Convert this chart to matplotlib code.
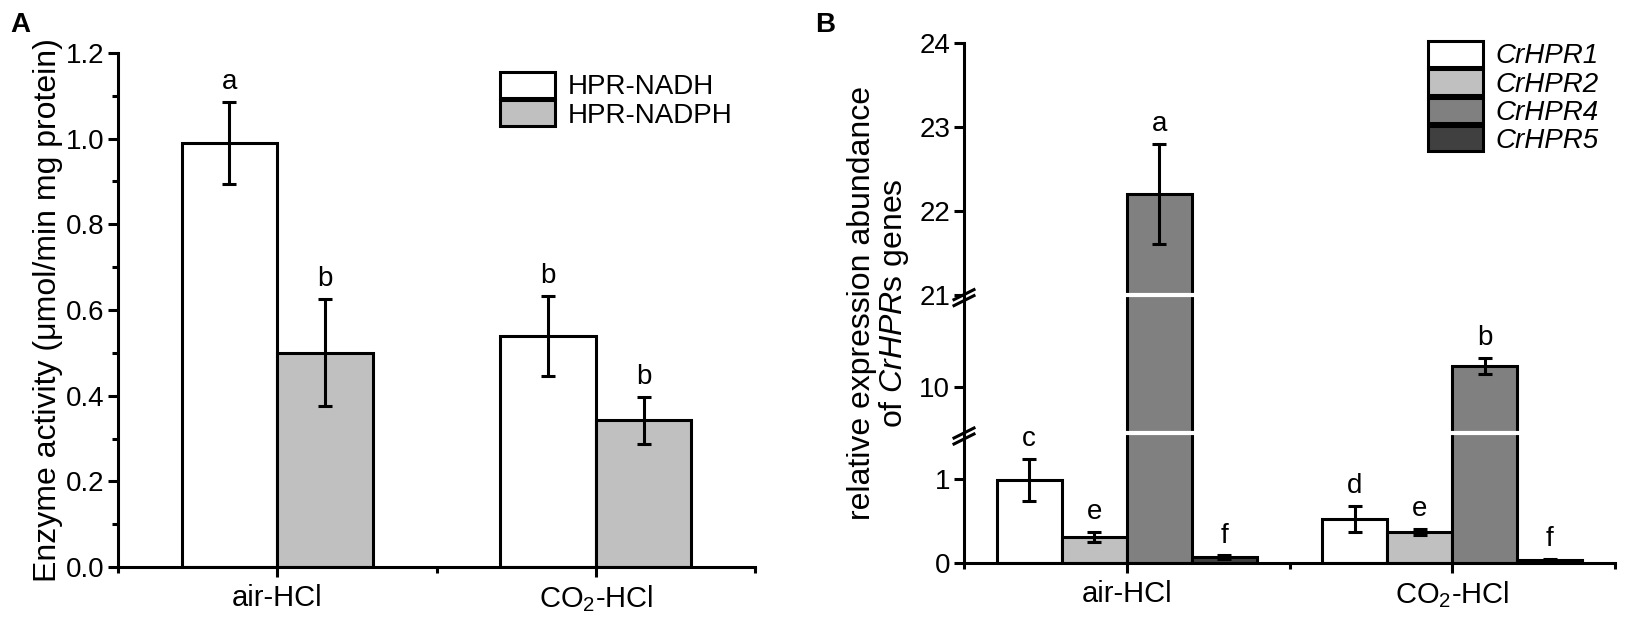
import numpy as np
import matplotlib
matplotlib.use("Agg")
import matplotlib.pyplot as plt
from matplotlib.ticker import FixedLocator, MultipleLocator, NullLocator

plt.rcParams['font.family'] = ['Liberation Sans', 'DejaVu Sans']
plt.rcParams['mathtext.fontset'] = 'custom'
plt.rcParams['mathtext.rm'] = 'Liberation Sans'
plt.rcParams['mathtext.it'] = 'Liberation Sans:italic'
plt.rcParams['mathtext.default'] = 'regular'

groups = ['air-HCl', 'CO$_2$-HCl']
group_x = [1, 3]

# panel A - enzyme activity
enz_names = ['HPR-NADH', 'HPR-NADPH']
enz_mean = [[0.99, 0.54], [0.50, 0.343]]
enz_err = [[0.095, 0.093], [0.125, 0.055]]
enz_letters = [['a', 'b'], ['b', 'b']]
enz_colors = ['white', '#c0c0c0']

# panel B - relative expression
gene_names = ['CrHPR1', 'CrHPR2', 'CrHPR4', 'CrHPR5']
gene_mean = [[0.99, 0.52], [0.31, 0.37], [22.2, 10.25], [0.07, 0.04]]
gene_err = [[0.245, 0.155], [0.06, 0.04], [0.6, 0.1], [0.02, 0.01]]
gene_letters = [['c', 'd'], ['e', 'e'], ['a', 'b'], ['f', 'f']]
gene_colors = ['white', '#c0c0c0', '#808080', '#404040']

# broken axis for panel B: (value, position) knots
brk_y = [0, 1.55, 9.45, 11.1, 21, 24]
brk_d = [0, 130.2, 130.21, 268.8, 268.81, 520.8]

FS = 20      # tick labels, legend, letters
FS_X = 21    # category labels
FS_LAB = 23  # axis titles
LW = 2.2


def fwd(y):
    y = np.asarray(y, dtype=float)
    out = np.interp(y, brk_y, brk_d)
    out = np.where(y < 0, y * 84, out)
    out = np.where(y > 24, brk_d[-1] + (y - 24) * 84, out)
    return out


def inv(d):
    d = np.asarray(d, dtype=float)
    out = np.interp(d, brk_d, brk_y)
    out = np.where(d < 0, d / 84, out)
    out = np.where(d > brk_d[-1], 24 + (d - brk_d[-1]) / 84, out)
    return out


W, H = 1625, 625
fig = plt.figure(figsize=(W / 100, H / 100), dpi=100)
axA = fig.add_axes([118 / W, 1 - 567 / H, 637 / W, 514 / H])
axB = fig.add_axes([964 / W, 1 - 563 / H, 651 / W, 520 / H])


def style(ax):
    for s in ['top', 'right']:
        ax.spines[s].set_visible(False)
    for s in ['left', 'bottom']:
        ax.spines[s].set_linewidth(LW)
    ax.set_xlim(0, 4)
    ax.set_xticks(group_x)
    ax.set_xticklabels(groups, fontsize=FS_X)
    ax.xaxis.set_minor_locator(FixedLocator([0, 2, 4]))
    ax.tick_params(axis='both', which='major', length=7, width=LW, labelsize=FS, pad=3)
    ax.tick_params(axis='both', which='minor', length=4, width=LW)
    ax.tick_params(axis='x', which='major', pad=5, labelsize=FS_X)


def legend(ax, x, y, italic=False):
    prop = {'size': FS}
    if italic:
        prop['style'] = 'italic'
    ax.legend(loc='upper left', bbox_to_anchor=(x / W, 1 - y / H),
              bbox_transform=fig.transFigure, frameon=False, prop=prop,
              borderpad=0, borderaxespad=0, labelspacing=0, handleheight=1.04,
              handlelength=1.98, handletextpad=0.45)


# ---- Panel A ----
bw = 0.6
for i in range(2):
    xs = [g - bw + i * bw for g in group_x]
    ax = axA
    ax.bar(xs, enz_mean[i], width=bw, align='edge', color=enz_colors[i],
           edgecolor='black', linewidth=LW, label=enz_names[i], zorder=2)
    cx = [x + bw / 2 for x in xs]
    ax.errorbar(cx, enz_mean[i], yerr=enz_err[i], fmt='none', ecolor='black',
                elinewidth=LW, capsize=5, capthick=LW, zorder=3)
    for x, m, e, t in zip(cx, enz_mean[i], enz_err[i], enz_letters[i]):
        ax.annotate(t, (x, m + e), xytext=(0, 5), textcoords='offset points',
                    ha='center', va='bottom', fontsize=FS)
style(axA)
axA.set_ylim(0, 1.2)
axA.yaxis.set_major_locator(MultipleLocator(0.2))
axA.yaxis.set_minor_locator(MultipleLocator(0.1))
axA.set_yticklabels([f'{v:.1f}' for v in axA.get_yticks()])
axA.set_ylabel('Enzyme activity (μmol/min mg protein)', fontsize=FS_LAB, labelpad=2)
legend(axA, 500, 72)

# ---- Panel B ----
axB.set_yscale('function', functions=(fwd, inv))
bw = 0.4
for i in range(4):
    xs = [g - 2 * bw + i * bw for g in group_x]
    ax = axB
    ax.bar(xs, gene_mean[i], width=bw, align='edge', color=gene_colors[i],
           edgecolor='black', linewidth=LW, label=gene_names[i], zorder=2)
    cx = [x + bw / 2 for x in xs]
    ax.errorbar(cx, gene_mean[i], yerr=gene_err[i], fmt='none', ecolor='black',
                elinewidth=LW, capsize=5, capthick=LW, zorder=3)
    for x, m, e, t in zip(cx, gene_mean[i], gene_err[i], gene_letters[i]):
        ax.annotate(t, (x, m + e), xytext=(0, 5), textcoords='offset points',
                    ha='center', va='bottom', fontsize=FS)
style(axB)
axB.set_ylim(0, 24)
axB.set_yticks([0, 1, 10, 21, 22, 23, 24])
axB.set_yticklabels(['0', '1', '10', '21', '22', '23', '24'])
axB.yaxis.set_minor_locator(NullLocator())
axB.set_ylabel('relative expression abundance\nof $\\it{CrHPR}$s genes',
               fontsize=FS_LAB, labelpad=6, linespacing=1.0)

# white gaps through the bars and // marks on the axis at the breaks
for yb in [brk_y[1], brk_y[3]]:
    axB.axhline(yb, color='white', linewidth=3, zorder=2.2)
    yf = fwd(yb) / brk_d[-1]
    for off in [-6, 0]:
        dy = off / 520
        axB.plot([-10 / 651, 10 / 651], [yf + dy - 5 / 520, yf + dy + 5 / 520],
                 transform=axB.transAxes, color='black', linewidth=LW,
                 clip_on=False, zorder=4)
legend(axB, 1428, 41, italic=True)

fig.text(10 / W, 1 - 12 / H, 'A', fontsize=20, fontweight='bold', va='top')
fig.text(815 / W, 1 - 12 / H, 'B', fontsize=20, fontweight='bold', va='top')

fig.savefig('out.png', dpi=100)
